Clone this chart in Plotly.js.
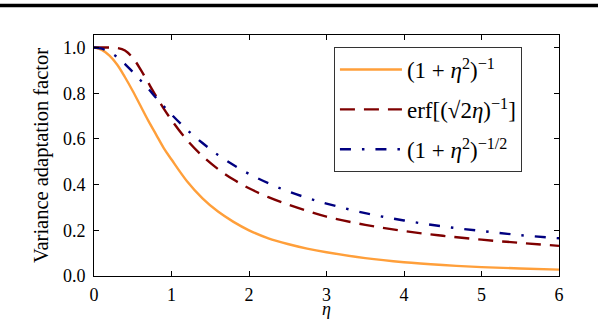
<!DOCTYPE html>
<html>
<head>
<meta charset="utf-8">
<script src="https://cdn.plot.ly/plotly-3.0.1.min.js"></script>
<style>
  html, body { margin: 0; padding: 0; background: #fff; }
  #chart { width: 598px; height: 322px; }
</style>
</head>
<body>
<div id="chart"></div>
<script>
// eta grid used for all three curves
const eta = [0, 0.1, 0.2, 0.3, 0.4, 0.5, 0.6, 0.7, 0.8, 0.9, 1.0, 1.2, 1.4, 1.6, 1.8, 2.0, 2.25, 2.5, 2.75, 3, 3.5, 4, 4.5, 5, 5.5, 6];

// (1+eta^2)^-1
const lorentz = [1.0, 0.99, 0.965, 0.925, 0.87, 0.81, 0.745, 0.68, 0.62, 0.56, 0.51, 0.415, 0.34, 0.282, 0.237, 0.2, 0.165, 0.14, 0.12, 0.104, 0.078, 0.06, 0.048, 0.039, 0.033, 0.028];
// erf[(sqrt(2) eta)^-1]
const erfCurve = [1.0, 1.0, 1.0, 0.998, 0.987, 0.955, 0.905, 0.846, 0.788, 0.733, 0.683, 0.595, 0.525, 0.468, 0.422, 0.384, 0.345, 0.313, 0.285, 0.26, 0.224, 0.197, 0.176, 0.159, 0.145, 0.132];
// (1+eta^2)^-1/2
const sqrtCurve = [1.0, 0.995, 0.98, 0.958, 0.928, 0.893, 0.857, 0.82, 0.78, 0.743, 0.707, 0.64, 0.582, 0.53, 0.486, 0.447, 0.406, 0.371, 0.342, 0.317, 0.275, 0.243, 0.217, 0.197, 0.179, 0.165];

const names = [
  '(1 + <i>η</i><sup>2</sup>)<sup>−1</sup>',
  'erf[(√2<i>η</i>)<sup>−1</sup>]',
  '(1 + <i>η</i><sup>2</sup>)<sup>−1/2</sup>'
];

const serif = 'Times New Roman';

const traces = [
  {
    x: eta, y: lorentz, name: names[0], legendgroup: 'a',
    type: 'scatter', mode: 'lines',
    line: { color: '#FF9F3A', width: 2.4, shape: 'spline', smoothing: 1 }
  },
  {
    x: eta, y: erfCurve, name: names[1], legendgroup: 'b',
    type: 'scatter', mode: 'lines',
    line: { color: '#7F0000', width: 2.4, dash: '15px,9px', shape: 'spline', smoothing: 1 }
  },
  {
    x: eta, y: sqrtCurve, name: names[2], legendgroup: 'c',
    type: 'scatter', mode: 'lines',
    line: { color: '#000080', width: 2.4, dash: '11px,11px,2.5px,11px', shape: 'spline', smoothing: 1 }
  }
];

const axisBase = {
  showline: true, linecolor: '#000', linewidth: 1, mirror: 'allticks',
  ticks: 'inside', ticklen: 5, tickwidth: 1, tickcolor: '#000',
  showgrid: false, zeroline: false, ticklabelstandoff: 4,
  tickfont: { family: serif, size: 18, color: '#000' }
};

const layout = {
  width: 598, height: 322,
  margin: { l: 94, r: 39, t: 35, b: 46 },
  paper_bgcolor: '#fff', plot_bgcolor: '#fff',
  font: { family: serif, color: '#000' },
  xaxis: Object.assign({}, axisBase, {
    range: [0, 6], tickvals: [0, 1, 2, 3, 4, 5, 6], ticklabelstandoff: 2
  }),
  yaxis: Object.assign({}, axisBase, {
    range: [0, 1.055], tickvals: [0, 0.2, 0.4, 0.6, 0.8, 1.0], tickformat: '.1f',
    title: { text: 'Variance adaptation factor', font: { family: serif, size: 20.5 }, standoff: 8 }
  }),
  showlegend: true,
  legend: {
    x: 0.516, y: 0.95, xanchor: 'left', yanchor: 'top',
    bgcolor: '#fff', bordercolor: '#333', borderwidth: 1,
    font: { family: serif, size: 23, color: '#000' },
    itemwidth: 62, tracegroupgap: 7
  },
  // x axis title placed by hand so it clears the tick labels
  annotations: [{
    text: '<i>η</i>', xref: 'paper', yref: 'paper', x: 0.5, y: -0.136,
    xanchor: 'center', yanchor: 'middle', showarrow: false,
    font: { family: serif, size: 18, color: '#000' }
  }],
  shapes: [{
    type: 'line', xref: 'paper', yref: 'paper',
    x0: -0.21, x1: 1.09, y0: 1.122, y1: 1.122,
    line: { color: '#000', width: 3.5 }
  }]
};

Plotly.newPlot('chart', traces, layout, { displayModeBar: false, staticPlot: true });
</script>
</body>
</html>
